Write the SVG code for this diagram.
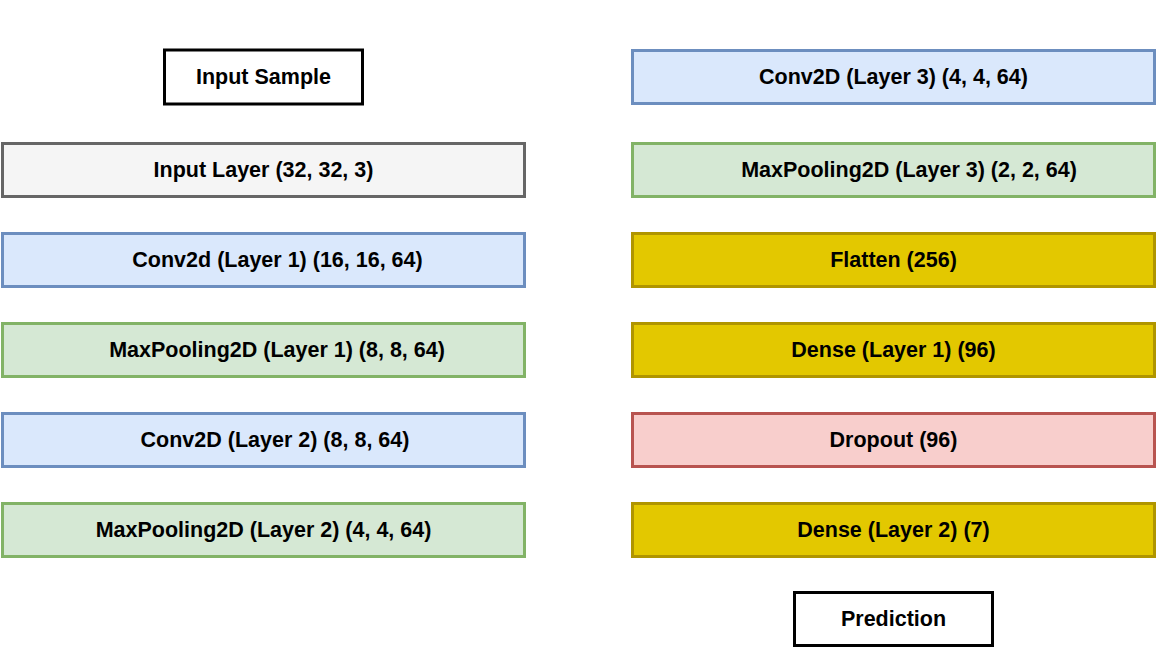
<svg xmlns="http://www.w3.org/2000/svg" width="1156" height="648" viewBox="0 0 1156 648">
<style>
text{font-family:"Liberation Sans",Arial,Helvetica,sans-serif;font-weight:bold;font-size:21.5px;fill:#000;text-anchor:middle;dominant-baseline:central}
.plain{fill:#fff;stroke:#000;stroke-width:3}
.gray{fill:#f5f5f5;stroke:#666;stroke-width:3}
.blue{fill:#dae8fc;stroke:#6c8ebf;stroke-width:3}
.green{fill:#d5e8d4;stroke:#82b366;stroke-width:3}
.yellow{fill:#e3c800;stroke:#b09500;stroke-width:3}
.red{fill:#f8cecc;stroke:#b85450;stroke-width:3}
.conn{fill:none;stroke:#fff;stroke-width:1.5;marker-end:url(#arr)}
</style>
<defs>
<marker id="arr" viewBox="0 0 6 6" refX="6" refY="3" markerWidth="4" markerHeight="4" orient="auto"><path d="M0,0L6,3L0,6z" fill="#fff"/></marker>
</defs>
<rect width="1156" height="648" fill="#fff"/>
<g id="connectors">
<path class="conn" d="M263.5,105V141"/>
<path class="conn" d="M263.5,198V231"/>
<path class="conn" d="M263.5,288V321"/>
<path class="conn" d="M263.5,378V411"/>
<path class="conn" d="M263.5,468V501"/>
<path class="conn" d="M263.5,559V580H578V20H893.5V48"/>
<path class="conn" d="M893.5,105V141"/>
<path class="conn" d="M893.5,198V231"/>
<path class="conn" d="M893.5,288V321"/>
<path class="conn" d="M893.5,378V411"/>
<path class="conn" d="M893.5,468V501"/>
<path class="conn" d="M893.5,559V590"/>
</g>
<g id="input-sample"><rect class="plain" x="164.5" y="50" width="198" height="54"/><text x="263.5" y="77">Input Sample</text></g>
<g id="input-layer"><rect class="gray" x="2.5" y="143.5" width="522" height="53"/><text x="263.5" y="170">Input Layer (32, 32, 3)</text></g>
<g id="conv1"><rect class="blue" x="2.5" y="233.5" width="522" height="53"/><text x="277.5" y="260">Conv2d (Layer 1) (16, 16, 64)</text></g>
<g id="pool1"><rect class="green" x="2.5" y="323.5" width="522" height="53"/><text x="277" y="350">MaxPooling2D (Layer 1) (8, 8, 64)</text></g>
<g id="conv2"><rect class="blue" x="2.5" y="413.5" width="522" height="53"/><text x="275" y="440">Conv2D (Layer 2) (8, 8, 64)</text></g>
<g id="pool2"><rect class="green" x="2.5" y="503.5" width="522" height="53"/><text x="263.5" y="530">MaxPooling2D (Layer 2) (4, 4, 64)</text></g>
<g id="conv3"><rect class="blue" x="632.5" y="50.5" width="522" height="53"/><text x="893.5" y="77">Conv2D (Layer 3) (4, 4, 64)</text></g>
<g id="pool3"><rect class="green" x="632.5" y="143.5" width="522" height="53"/><text x="909" y="170">MaxPooling2D (Layer 3) (2, 2, 64)</text></g>
<g id="flatten"><rect class="yellow" x="632.5" y="233.5" width="522" height="53"/><text x="893.5" y="260">Flatten (256)</text></g>
<g id="dense1"><rect class="yellow" x="632.5" y="323.5" width="522" height="53"/><text x="893.5" y="350">Dense (Layer 1) (96)</text></g>
<g id="dropout"><rect class="red" x="632.5" y="413.5" width="522" height="53"/><text x="893.5" y="440">Dropout (96)</text></g>
<g id="dense2"><rect class="yellow" x="632.5" y="503.5" width="522" height="53"/><text x="893.5" y="530">Dense (Layer 2) (7)</text></g>
<g id="prediction"><rect class="plain" x="794.5" y="592.5" width="198" height="53"/><text x="893.5" y="619">Prediction</text></g>
</svg>
